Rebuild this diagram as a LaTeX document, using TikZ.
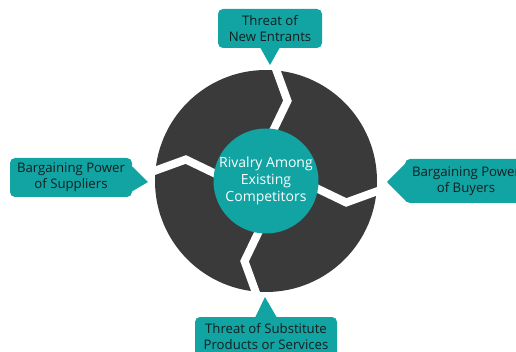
\documentclass[tikz,border=0pt]{standalone}
\usepackage{fontspec}
\setmainfont{Open Sans}
\usetikzlibrary{positioning,calc}
\definecolor{porter}{RGB}{18,163,163}
\definecolor{wheel}{RGB}{58,58,58}
\definecolor{ink}{RGB}{22,30,30}

\begin{document}
\begin{tikzpicture}[x=1pt, y=-1pt, font=\fontsize{13.2}{16}\selectfont]
    \tikzstyle{force}=[fill=porter, text=ink, rounded corners=5pt, align=center, inner sep=0pt, minimum height=39pt]
    \tikzstyle{gap}=[white, line width=8pt, line join=miter]
    \clip (0,0) rectangle (516,352);
    \fill[white] (0,0) rectangle (516,352);
    % the wheel, cut into four pieces
    \node[circle, fill=wheel, minimum size=222pt, inner sep=0pt] (wheel) at (266,181) {};
    \foreach \a in {0,90,180,270}
        \draw[gap] ($(wheel.center)+(-87+\a:40)$) -- ($(wheel.center)+(-75+\a:83)$) -- ($(wheel.center)+(-87+\a:122)$);
    \node[circle, fill=porter, minimum size=102pt, inner sep=0pt, text=white, align=center,
          font=\fontsize{14}{17}\selectfont] (rivalry) at (wheel.center) {Rivalry Among\\Existing\\Competitors};
    % the four forces
    \node[force, minimum width=104pt]                    (entrants)    at (270,28.5) {Threat of\\New Entrants};
    \node[force, minimum width=122pt]                    (suppliers)   at (71,177.5) {Bargaining Power\\of Suppliers};
    \node[force, minimum width=122pt, minimum height=44pt] (buyers)    at (466,181)  {Bargaining Power\\of Buyers};
    \node[force, minimum width=142pt, minimum height=40pt] (substitutes) at (266,337) {Threat of Substitute\\Products or Services};
    % pointers towards the wheel
    \coordinate (tipN) at (270,65);
    \coordinate (tipW) at (148,182);
    \coordinate (tipE) at (387,182);
    \coordinate (tipS) at (265,297);
    \fill[porter] ($(entrants.south)+(-10,-1)$) -- (tipN) -- ($(entrants.south)+(10,-1)$) -- cycle;
    \fill[porter] ($(suppliers.east)+(-2,-13)$) -- (tipW) -- ($(suppliers.east)+(-2,15)$) -- cycle;
    \fill[porter] ($(buyers.west)+(2,-19)$) -- (tipE) -- ($(buyers.west)+(2,21)$) -- cycle;
    \fill[porter] ($(substitutes.north)+(-11,1)$) -- (tipS) -- ($(substitutes.north)+(11,1)$) -- cycle;
\end{tikzpicture}
\end{document}
